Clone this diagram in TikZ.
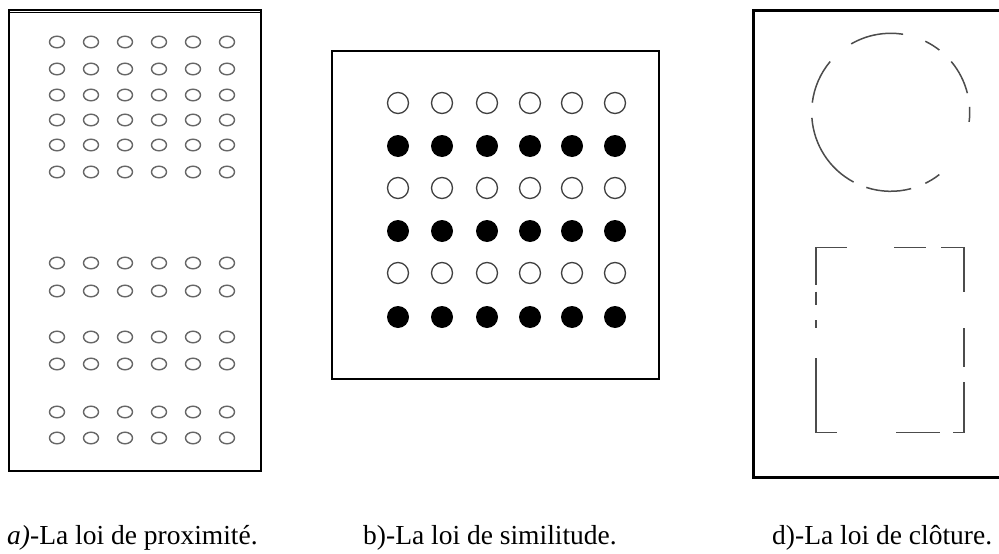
\documentclass[tikz,border=0pt]{standalone}
\usepackage{fontspec}
\setmainfont{Liberation Serif}
\begin{document}
\begin{tikzpicture}[x=1pt,y=-1pt,
  frame/.style={draw=black,line width=2pt},
  dotA/.style={draw=black!60,line width=1.4pt},
  dotOpen/.style={draw=black!75,line width=1.3pt},
  dotFull/.style={fill=black},
  dashline/.style={draw=black!70,line width=1.5pt},
  caption/.style={anchor=base west,inner sep=0pt,font=\fontsize{27.5}{32}\selectfont}]
\useasboundingbox[fill=white] (0,0) rectangle (999,554);
% ---------- panel a ----------
\draw[frame] (8.5,10) rectangle (261,471);
\draw[line width=1pt] (8.5,12.5) -- (261,12.5);
\foreach \y in {42,69,95,120,145,172,263,291,337,364,412,438}{
  \foreach \x in {57,91,125,159,193,227}{
    \draw[dotA] (\x,\y) ellipse [x radius=7.5, y radius=5.8];
  }
}
% ---------- panel b ----------
\draw[frame] (332,51) rectangle (659,379);
\foreach \y [count=\i] in {103,146,188,231,273,317}{
  \foreach \x in {398,442,487,530,572,615}{
    \ifodd\i
      \draw[dotOpen] (\x,\y) circle [radius=10.5];
    \else
      \fill[dotFull] (\x,\y) circle [radius=11];
    \fi
  }
}
% ---------- panel d ----------
\draw[line width=3pt] (999,10) -- (753,10) -- (753,477) -- (999,477);
% dashed circle
\def\cx{890.7}\def\cy{112.3}\def\rr{79}
\foreach \a/\b in {81/120,52/64,14/40,-7/4,-64/-52,-108/-75,184/242,140/173}{
  \draw[dashline] ({\cx+\rr*cos(\a)},{\cy-\rr*sin(\a)}) arc [start angle=-\a, end angle=-\b, radius=\rr];
}
% dashed rectangle
\draw[dashline] (846.7,247.3) -- (816,247.3) -- (816,285);
\draw[dashline] (894,247.3) -- (925.7,247.3);
\draw[dashline] (941,247.3) -- (964,247.3) -- (964,291.7);
\draw[dashline] (816,291.7) -- (816,305);
\draw[dashline] (816,320) -- (816,328.3);
\draw[dashline] (816,358) -- (816,432.3) -- (836.7,432.3);
\draw[dashline] (896,432.3) -- (940,432.3);
\draw[dashline] (953,432.3) -- (964,432.3) -- (964,381.7);
\draw[dashline] (964,328) -- (964,366.7);
% ---------- captions ----------
\node[caption] (capa) at (7,544) {\textit{a)}-La loi de proximité.};
\node[caption] (capb) at (363,544) {b)-La loi de similitude.};
\node[caption] (capd) at (772,544) {d)-La loi de clôture.};
\end{tikzpicture}
\end{document}
